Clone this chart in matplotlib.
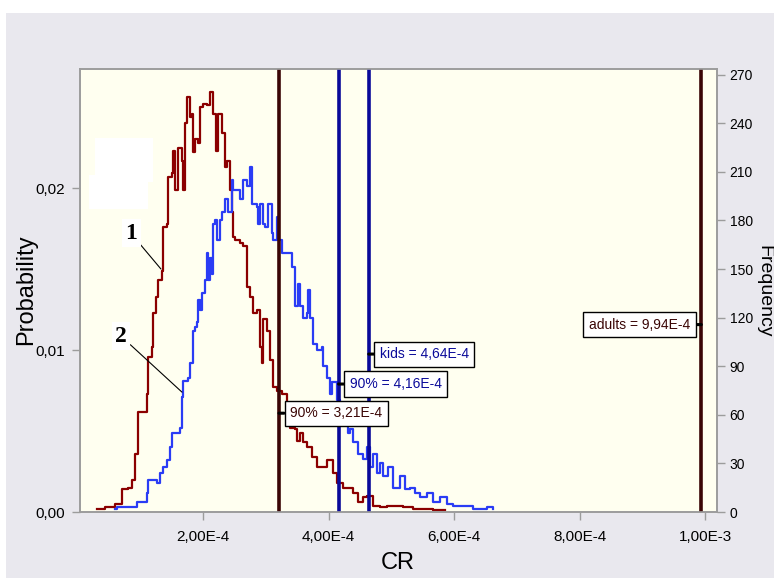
import math

import matplotlib
matplotlib.use("Agg")
import matplotlib.pyplot as plt
from matplotlib import font_manager
from matplotlib.patches import Rectangle
from matplotlib.ticker import FixedLocator, FuncFormatter

# curve 1 (adults): CR in units of 1e-4, frequency per bin
red_cr = [0.31, 0.44, 0.60, 0.71, 0.80, 0.87, 0.92, 0.96, 1.08, 1.11, 1.12, 1.19, 1.20, 1.25,
          1.28, 1.35, 1.36, 1.43, 1.44, 1.51, 1.52, 1.55, 1.60, 1.67, 1.68, 1.71, 1.75, 1.79,
          1.83, 1.84, 1.87, 1.92, 1.95, 2.00, 2.06, 2.11, 2.16, 2.21, 2.24, 2.30, 2.35, 2.38,
          2.43, 2.46, 2.48, 2.51, 2.59, 2.64, 2.70, 2.75, 2.80, 2.86, 2.91, 2.94, 2.96, 3.02,
          3.07, 3.12, 3.18, 3.26, 3.34, 3.39, 3.47, 3.50, 3.55, 3.59, 3.66, 3.74, 3.82, 3.91,
          3.98, 4.07, 4.14, 4.23, 4.39, 4.47, 4.55, 4.61, 4.71, 4.82, 4.93, 5.09, 5.19, 5.35,
          5.67, 5.86]
red_count = [2, 3, 5, 14, 15, 20, 36, 62, 62, 73, 96, 102, 123, 133, 143, 149, 176, 178, 207,
             209, 223, 199, 225, 217, 199, 240, 256, 244, 246, 222, 230, 228, 250, 252, 251, 259,
             246, 223, 246, 234, 213, 217, 199, 185, 170, 168, 166, 164, 139, 133, 123, 125, 102,
             92, 119, 112, 94, 77, 75, 73, 61, 52, 51, 44, 49, 43, 40, 34, 28, 28, 32, 24, 18,
             15, 12, 6, 9, 10, 4, 3, 4, 4, 3, 2, 1, 1]

# curve 2 (kids)
blue_cr = [0.60, 0.63, 0.88, 0.95, 1.11, 1.12, 1.27, 1.32, 1.36, 1.43, 1.47, 1.51, 1.63, 1.67,
           1.68, 1.76, 1.79, 1.84, 1.87, 1.90, 1.92, 1.95, 1.98, 2.03, 2.06, 2.08, 2.11, 2.14,
           2.16, 2.19, 2.22, 2.27, 2.30, 2.35, 2.40, 2.46, 2.48, 2.54, 2.59, 2.64, 2.70, 2.75,
           2.78, 2.86, 2.88, 2.91, 2.96, 2.99, 3.04, 3.10, 3.12, 3.18, 3.20, 3.26, 3.36, 3.42,
           3.47, 3.51, 3.55, 3.59, 3.66, 3.67, 3.71, 3.75, 3.82, 3.90, 3.91, 3.98, 4.02, 4.06,
           4.14, 4.18, 4.23, 4.31, 4.34, 4.39, 4.47, 4.55, 4.61, 4.66, 4.71, 4.77, 4.82, 4.87,
           4.95, 5.03, 5.14, 5.22, 5.30, 5.38, 5.46, 5.57, 5.67, 5.78, 5.89, 5.98, 6.14, 6.30,
           6.53, 6.62]
blue_count = [2, 3, 3, 6, 12, 20, 18, 24, 28, 32, 40, 49, 52, 71, 81, 83, 92, 112, 114, 117,
              131, 125, 135, 143, 160, 143, 157, 147, 178, 180, 168, 180, 185, 193, 185, 205,
              199, 199, 193, 205, 201, 213, 190, 188, 178, 190, 178, 176, 190, 172, 168, 182,
              168, 160, 160, 151, 127, 141, 127, 120, 123, 137, 120, 104, 100, 102, 90, 83, 73,
              80, 69, 61, 55, 49, 51, 43, 36, 33, 40, 28, 36, 24, 30, 22, 28, 15, 22, 14, 15,
              12, 9, 12, 6, 9, 5, 4, 4, 2, 3, 2]

n_samples = 10000

# reference lines and their value boxes (height on the frequency axis)
marker_values = [3.21e-4, 4.16e-4, 4.64e-4, 9.94e-4]
marker_labels = ["90% = 3,21E-4", "90% = 4,16E-4", "kids = 4,64E-4", "adults = 9,94E-4"]
marker_heights = [61, 79, 97.5, 115.7]

x_ticks = [2e-4, 4e-4, 6e-4, 8e-4, 1e-3]
prob_ticks = [0.0, 0.01, 0.02]
freq_ticks = list(range(0, 271, 30))

names = {f.name for f in font_manager.fontManager.ttflist}
NARROW = "Liberation Sans Narrow" if "Liberation Sans Narrow" in names else "Liberation Sans"
FONT = [NARROW, "DejaVu Sans"]

RED = "#8b0000"
BLUE = "#2a3cf5"
DARK = "#3a0505"
NAVY = "#0a0a9a"
GRID = "#9c9c9c"


def sci_comma(v, pos=None):
    if v == 0:
        return "0"
    exp = int(math.floor(math.log10(abs(v)) + 1e-9))
    return f"{v / 10 ** exp:.2f}E{exp}".replace(".", ",")


def prob_fmt(v, pos=None):
    return f"{v:.2f}".replace(".", ",")


fig = plt.figure(figsize=(7.74, 5.84), dpi=100)
fig.patch.set_facecolor("white")
fig.patches.append(Rectangle((6 / 774, 6 / 584), 1, 565 / 584, transform=fig.transFigure,
                             facecolor="#e9e8ee", edgecolor="none", zorder=-10))

ax = fig.add_axes([80 / 774, 72 / 584, 637 / 774, 443 / 584])
ax.set_facecolor("#fffff0")
ax.set_xlim(0.04e-4, 10.19e-4)
ax.set_ylim(0, 0.02735)

ax.plot([c * 1e-4 for c in red_cr], [n / n_samples for n in red_count],
        drawstyle="steps-post", color=RED, lw=1.6, zorder=3)
ax.plot([c * 1e-4 for c in blue_cr], [n / n_samples for n in blue_count],
        drawstyle="steps-post", color=BLUE, lw=1.6, zorder=3)

line_colors = [DARK, NAVY, NAVY, DARK]
for v, c in zip(marker_values, line_colors):
    ax.axvline(v, color=c, lw=2.6, zorder=4)

ax.xaxis.set_major_locator(FixedLocator(x_ticks))
ax.xaxis.set_major_formatter(FuncFormatter(sci_comma))
ax.yaxis.set_major_locator(FixedLocator(prob_ticks))
ax.yaxis.set_major_formatter(FuncFormatter(prob_fmt))
ax.tick_params(direction="out", length=6, width=1, color=GRID, labelsize=11, pad=5)
ax.tick_params(axis="x", pad=7)
for lab in ax.get_xticklabels() + ax.get_yticklabels():
    lab.set_family(FONT)

ax2 = ax.twinx()
ax2.set_ylim(0, 273.5)
ax2.yaxis.set_major_locator(FixedLocator(freq_ticks))
ax2.tick_params(direction="out", length=6, width=1, color=GRID, labelsize=10, pad=3)
for lab in ax2.get_yticklabels():
    lab.set_family(FONT)
for a in (ax, ax2):
    for s in a.spines.values():
        s.set_color(GRID)
        s.set_linewidth(1.2)

ax.set_xlabel("CR", family=FONT, fontsize=17)
ax.set_ylabel("Probability", family=FONT, fontsize=17)
ax2.set_ylabel("Frequency", family=FONT, fontsize=14, rotation=270)
ax.xaxis.set_label_coords(0.499, -0.115)
ax.yaxis.set_label_coords(-0.0848, 0.501)
ax2.yaxis.set_label_coords(1.074, 0.499)
for lab in (ax.xaxis.label, ax.yaxis.label, ax2.yaxis.label):
    lab.set_verticalalignment("center")
    lab.set_horizontalalignment("center")

# erased legend patches
ax2.add_patch(Rectangle((0.279e-4, 203.7), 0.924e-4, 27.2, facecolor="white",
                        edgecolor="none", zorder=5))
ax2.add_patch(Rectangle((0.183e-4, 187), 0.941e-4, 21, facecolor="white",
                        edgecolor="none", zorder=5))

# value labels next to the lines
text_colors = [DARK, NAVY, NAVY, DARK]
for v, lab, h, tc in zip(marker_values, marker_labels, marker_heights, text_colors):
    right = v > 9e-4
    ax2.annotate(lab, xy=(v, h), xytext=(-8 if right else 8, 0), textcoords="offset points",
                 ha="right" if right else "left", va="center", color=tc, family=FONT,
                 fontsize=10, zorder=6,
                 bbox=dict(boxstyle="square,pad=0.4", facecolor="white", edgecolor="black",
                           lw=1),
                 arrowprops=dict(arrowstyle="-", color="black", lw=2.2, shrinkA=0, shrinkB=0))

# curve numbers
for txt, xy, xyt in [("1", (1.33e-4, 150), (0.853e-4, 172)),
                     ("2", (1.665e-4, 74), (0.693e-4, 108.6))]:
    ax2.annotate(txt, xy=xy, xytext=xyt, ha="center", va="center", family="Liberation Serif",
                 fontweight="bold", fontsize=17, zorder=6,
                 bbox=dict(boxstyle="square,pad=0.15", facecolor="white", edgecolor="none"),
                 arrowprops=dict(arrowstyle="-", color="black", lw=0.8, shrinkA=0, shrinkB=0))

fig.savefig("out.png", dpi=100)
